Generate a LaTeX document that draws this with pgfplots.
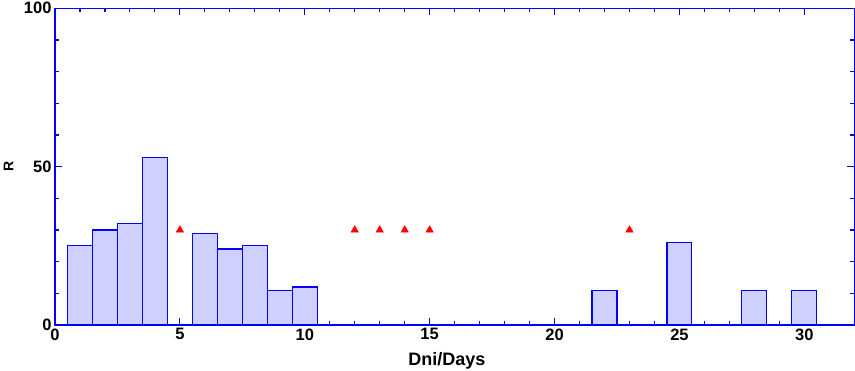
\documentclass[border=0pt]{standalone}
\usepackage{pgfplots}
\pgfplotsset{compat=1.18}
\usepackage{fontspec}
\setmainfont{Liberation Sans}
\definecolor{barfill}{RGB}{208,208,255}
\definecolor{axblue}{RGB}{0,0,255}
\begin{document}
\begin{tikzpicture}
\useasboundingbox (0,0) rectangle (855pt,370pt);
\begin{axis}[
  at={(55pt,45pt)}, anchor=south west,
  scale only axis, width=799.3pt, height=316.7pt,
  xmin=0, xmax=32, ymin=0, ymax=100,
  xtick={0,5,...,30}, ytick={0,50,100},
  minor x tick num=4, minor y tick num=4,
  tick align=inside,
  major tick length=7pt, minor tick length=4pt,
  axis line style={axblue, line width=1.2pt},
  every tick/.style={axblue, line width=1.1pt},
  every minor tick/.style={axblue, line width=1.1pt},
  /pgf/number format/assume math mode=true,
  tick label style={font=\fontsize{16.5}{16.5}\selectfont\bfseries},
  xlabel={Dni/Days}, ylabel={R},
  xlabel style={at={(axis description cs:0.4904,0)}, anchor=base, yshift=-40pt, font=\fontsize{18}{18}\selectfont\bfseries},
  ylabel style={at={(axis description cs:-0.0582,0.502)}, anchor=center, font=\fontsize{14}{14}\selectfont\bfseries},
  clip=false,
]
\addplot[ybar, bar width=1, bar shift=0, draw=axblue, fill=barfill, line width=1.1pt]
  coordinates {(1,25) (2,30) (3,32) (4,53) (6,29) (7,24) (8,25) (9,11) (10,12) (22,11) (25,26) (28,11) (30,11)};
\addplot[only marks, mark=triangle*, mark size=4.3pt, color=red, fill=red]
  coordinates {(5,30) (12,30) (13,30) (14,30) (15,30) (23,30)};
\end{axis}
\end{tikzpicture}
\end{document}
